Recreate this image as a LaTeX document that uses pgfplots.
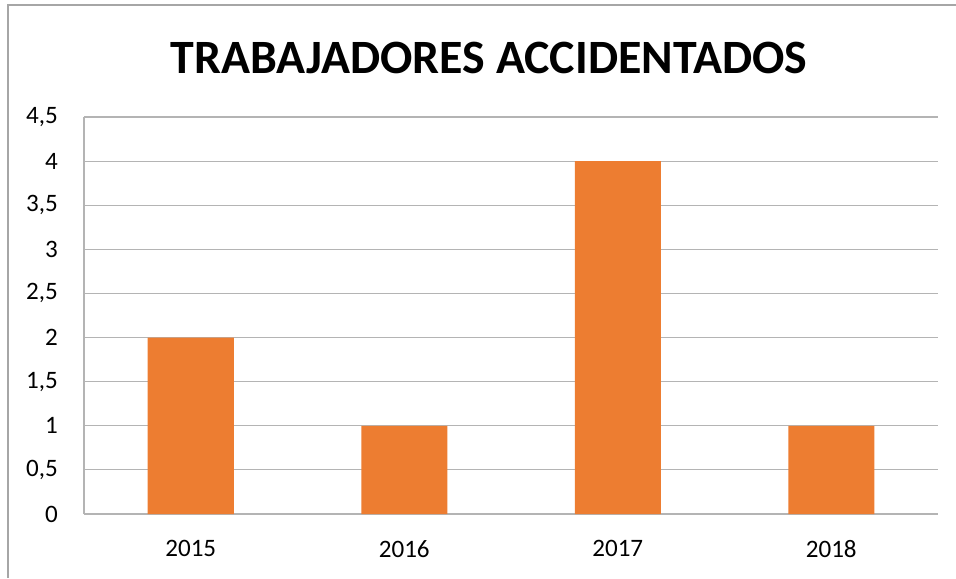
\documentclass[border=0pt]{standalone}
\usepackage{fontspec}
\setmainfont{Carlito}
\usepackage{pgfplots}
\pgfplotsset{compat=1.18}
\definecolor{barorange}{HTML}{ED7D31}
\definecolor{gridgray}{HTML}{B4B4B4}
\definecolor{framegray}{HTML}{A6A6A6}
\begin{document}
\begin{tikzpicture}
\useasboundingbox (-63pt,-48pt) rectangle (654pt,385.5pt);
\draw[framegray, line width=1.2pt] (-57pt,-48pt) -- (-57pt,381.75pt) -- (654pt,381.75pt);
\node[anchor=base, font=\fontsize{35.9}{40}\selectfont\bfseries] at (303.75pt,330pt) {TRABAJADORES ACCIDENTADOS};
\begin{axis}[
  scale only axis,
  width=640.5pt, height=297.75pt,
  xmin=-0.5, xmax=3.5, ymin=0, ymax=4.5,
  axis x line*=bottom, axis y line*=left,
  axis line style={gridgray, line width=1.1pt, -},
  xtick={0,1,2,3},
  xticklabels={2015,2016,2017,2018},
  ytick={0,0.5,...,4.5},
  major tick length=0pt,
  ymajorgrids,
  major grid style={gridgray, line width=0.9pt},
  /pgf/number format/assume math mode=true,
  /pgf/number format/.cd, use comma, 1000 sep={},
  /pgfplots/.cd,
  tick label style={font=\fontsize{18.8}{20}\selectfont},
  yticklabel style={inner sep=0pt, anchor=east, xshift=-19.5pt},
  xticklabel style={inner sep=0pt, anchor=north, yshift=-19.5pt},
  ybar, bar width=64.5pt, bar shift=0pt,
]
\addplot[fill=barorange, draw=none] coordinates {(0,2) (1,1) (2,4) (3,1)};
\end{axis}
\end{tikzpicture}
\end{document}
